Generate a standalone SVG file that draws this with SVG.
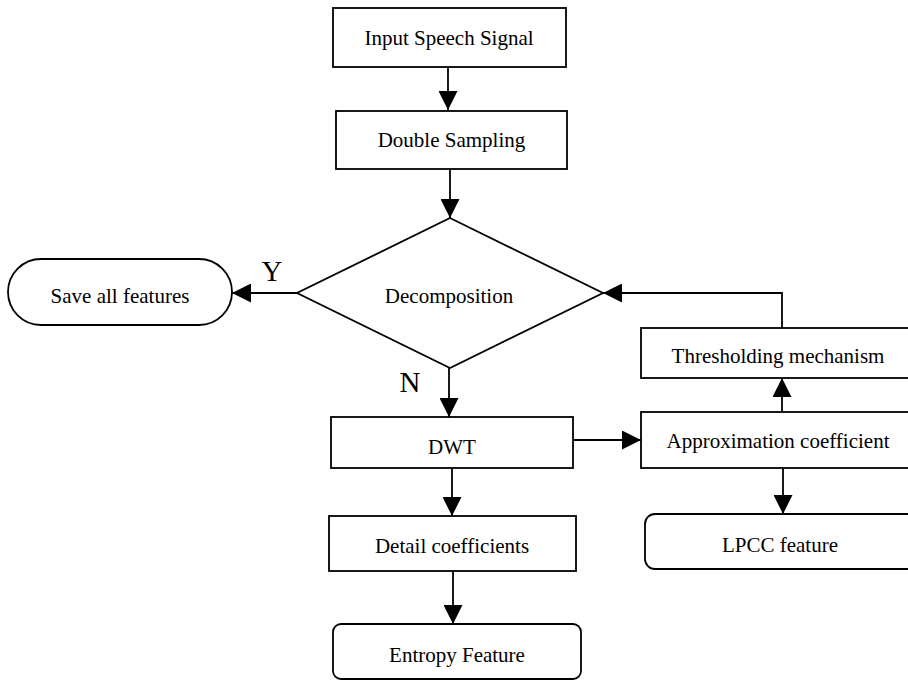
<svg xmlns="http://www.w3.org/2000/svg" width="908" height="682" viewBox="0 0 908 682">
<style>
.box{fill:#fff;stroke:#000;stroke-width:1.8}
.t{font-family:"Liberation Serif","Times New Roman",serif;font-size:21px;fill:#000;text-anchor:middle}
.lbl{font-family:"Liberation Serif","Times New Roman",serif;font-size:29px;fill:#000;text-anchor:middle}
.c{fill:none;stroke:#000;stroke-width:1.8}
</style>
<defs>
<marker id="ah" viewBox="0 0 20 20" markerUnits="userSpaceOnUse" markerWidth="20" markerHeight="19" refX="20" refY="10" orient="auto">
<path d="M0,0 L20,10 L0,20 Z" fill="#000"/>
</marker>
</defs>
<rect width="908" height="682" fill="#fff"/>
<g id="connectors">
<path class="c" d="M448,67 V110" marker-end="url(#ah)"/>
<path class="c" d="M450,169 V218" marker-end="url(#ah)"/>
<path class="c" d="M297,293 H232" marker-end="url(#ah)"/>
<path class="c" d="M449,368 V417" marker-end="url(#ah)"/>
<path class="c" d="M452,468 V516" marker-end="url(#ah)"/>
<path class="c" d="M453,571 V624" marker-end="url(#ah)"/>
<path class="c" d="M573,440 H641" marker-end="url(#ah)"/>
<path class="c" d="M782,412 V378" marker-end="url(#ah)"/>
<path class="c" d="M782,328 V293 H603" marker-end="url(#ah)"/>
<path class="c" d="M783,468 V514" marker-end="url(#ah)"/>
<text class="lbl" x="272" y="281">Y</text>
<text class="lbl" x="410" y="392">N</text>
</g>
<g id="input">
<rect class="box" x="333" y="8" width="233" height="59"/>
<text class="t" x="449" y="45">Input Speech Signal</text>
</g>
<g id="double">
<rect class="box" x="336" y="111" width="231" height="58"/>
<text class="t" x="451.5" y="147">Double Sampling</text>
</g>
<g id="decomposition">
<polygon class="box" points="450,218 603,293 450,368 297,293"/>
<text class="t" x="449" y="303">Decomposition</text>
</g>
<g id="save">
<rect class="box" x="8" y="259" width="224" height="66" rx="33" ry="33"/>
<text class="t" x="120" y="303">Save all features</text>
</g>
<g id="dwt">
<rect class="box" x="331" y="417" width="242" height="51"/>
<text class="t" x="452" y="454">DWT</text>
</g>
<g id="detail">
<rect class="box" x="329" y="516" width="247" height="55"/>
<text class="t" x="452" y="553">Detail coefficients</text>
</g>
<g id="entropy">
<rect class="box" x="333" y="624" width="248" height="55" rx="8" ry="8"/>
<text class="t" x="457" y="662">Entropy Feature</text>
</g>
<g id="threshold">
<rect class="box" x="641" y="328" width="280" height="50"/>
<text class="t" x="778" y="363">Thresholding mechanism</text>
</g>
<g id="approx">
<rect class="box" x="641" y="412" width="280" height="56"/>
<text class="t" x="778" y="448">Approximation coefficient</text>
</g>
<g id="lpcc">
<rect class="box" x="645" y="514" width="280" height="55" rx="10" ry="10"/>
<text class="t" x="780" y="552">LPCC feature</text>
</g>
</svg>
